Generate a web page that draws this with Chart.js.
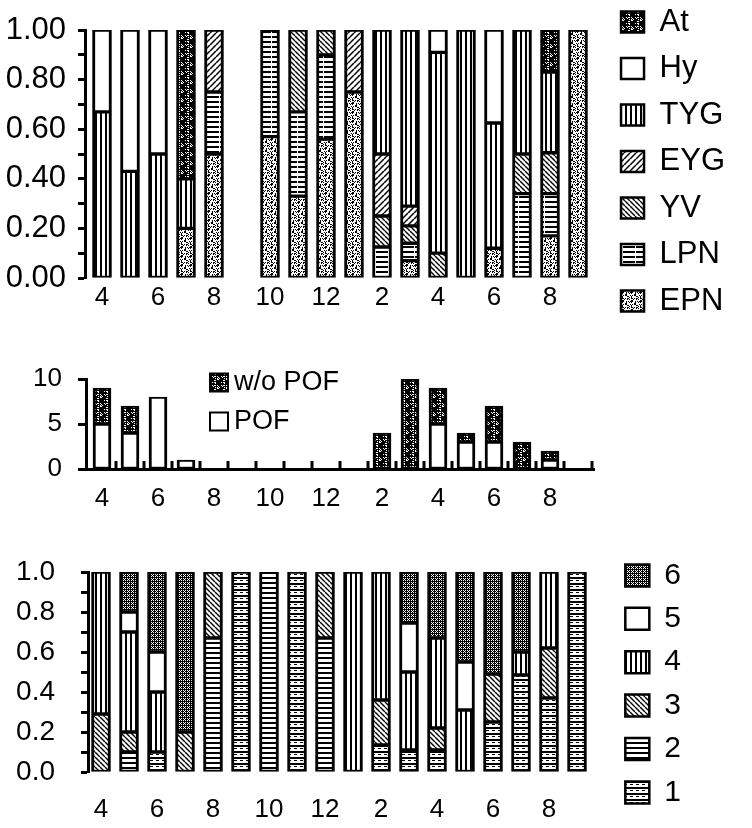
<!DOCTYPE html>
<html>
<head>
<meta charset="utf-8">
<script src="https://cdn.jsdelivr.net/npm/chart.js@4.4.1/dist/chart.umd.min.js"></script>
<style>
    html, body { margin: 0; padding: 0; background: #fff; }
    body { position: relative; width: 752px; height: 828px; overflow: hidden; }
    canvas { position: absolute; left: 0; }
    #top-chart { top: -9px; }
    #mid-chart { top: 350px; }
    #bot-chart { top: 547px; }
</style>
</head>
<body>
<canvas id="top-chart" width="752" height="350"></canvas>
<canvas id="mid-chart" width="752" height="170"></canvas>
<canvas id="bot-chart" width="752" height="281"></canvas>
<script>
// ===== DATA =====
const months = ['4', '5', '6', '7', '8', '9', '10', '11', '12', '1', '2', '3', '4', '5', '6', '7', '8', '9'];

// upper panel, stacked bottom -> top
const epn = [0, 0, 0, 0.20, 0.50, 0, 0.57, 0.33, 0.56, 0.75, 0, 0.07, 0, 0, 0.12, 0, 0.17, 1.00];
const lpn = [0, 0, 0, 0, 0.25, 0, 0.43, 0.34, 0.34, 0, 0.125, 0.07, 0, 0, 0, 0.34, 0.17, 0];
const yv  = [0, 0, 0, 0, 0, 0, 0, 0.33, 0.10, 0, 0.125, 0.07, 0.10, 0, 0, 0.16, 0.165, 0];
const eyg = [0, 0, 0, 0, 0.25, 0, 0, 0, 0, 0.25, 0.25, 0.08, 0, 0, 0, 0, 0, 0];
const tyg = [0.67, 0.43, 0.50, 0.20, 0, 0, 0, 0, 0, 0, 0.50, 0.71, 0.81, 1.00, 0.505, 0.50, 0.325, 0];
const hy  = [0.33, 0.57, 0.50, 0, 0, 0, 0, 0, 0, 0, 0, 0, 0.09, 0, 0.375, 0, 0, 0];
const at  = [0, 0, 0, 0.60, 0, 0, 0, 0, 0, 0, 0, 0, 0, 0, 0, 0, 0.17, 0];
const shareTicks = [0, 0.1, 0.2, 0.3, 0.4, 0.5, 0.6, 0.7, 0.8, 0.9, 1.0];

// middle panel, counts
const pof   = [5, 4, 8, 1, 0, 0, 0, 0, 0, 0, 0, 0, 5, 3, 3, 0, 1, 0];
const noPof = [4, 3, 0, 0, 0, 0, 0, 0, 0, 0, 4, 10, 4, 1, 4, 3, 1, 0];
const countTicks = [0, 5, 10];

// lower panel, stages 1..6 stacked bottom -> top
const stage1 = [0, 0, 0.10, 0, 0, 1, 0, 1, 0, 0, 0.135, 0.11, 0.11, 0, 0.25, 0.485, 0.37, 1];
const stage2 = [0, 0.10, 0, 0, 0.67, 0, 1, 0, 0.67, 0, 0, 0, 0, 0, 0, 0, 0, 0];
const stage3 = [0.29, 0.10, 0, 0.20, 0.33, 0, 0, 0, 0.33, 0, 0.225, 0, 0.11, 0, 0.24, 0, 0.25, 0];
const stage4 = [0.71, 0.50, 0.30, 0, 0, 0, 0, 0, 0, 1, 0.64, 0.39, 0.45, 0.31, 0, 0.115, 0.38, 0];
const stage5 = [0, 0.10, 0.20, 0, 0, 0, 0, 0, 0, 0, 0, 0.245, 0, 0.24, 0, 0, 0, 0];
const stage6 = [0, 0.20, 0.40, 0.80, 0, 0, 0, 0, 0, 0, 0, 0.255, 0.33, 0.45, 0.51, 0.40, 0, 0];

// ===== PATTERNS =====
const FONT = "'Liberation Sans', Arial, Helvetica, sans-serif";
Chart.defaults.font.family = FONT;
Chart.defaults.color = '#000';

function tile(w, h, bg, draw) {
    const c = document.createElement('canvas');
    c.width = w;
    c.height = h;
    const g = c.getContext('2d');
    g.fillStyle = bg;
    g.fillRect(0, 0, w, h);
    g.fillStyle = '#000';
    g.strokeStyle = '#000';
    draw(g, w, h);
    return g.createPattern(c, 'repeat');
}

// speckled texture, fixed seed so it is the same every run
function speckle(size, bg, fg, density, seed) {
    let s = seed;
    const next = () => (s = (s * 1103515245 + 12345) & 0x7fffffff) / 0x7fffffff;
    return tile(size, size, bg, g => {
        g.fillStyle = fg;
        for (let y = 0; y < size; y++) {
            for (let x = 0; x < size; x++) {
                if (next() < density) g.fillRect(x, y, 1, 1);
            }
        }
    });
}

const lightStipple = speckle(9, '#fff', '#000', 0.38, 7);
const darkStipple = speckle(9, '#fff', '#000', 0.78, 11);
const mesh = tile(4, 4, '#000', g => {
    g.fillStyle = '#fff';
    [[1, 1], [3, 3], [1, 3], [3, 1], [0, 0]].forEach(p => g.fillRect(p[0], p[1], 1, 1));
});
const vLines = tile(5, 1, '#fff', g => g.fillRect(0, 0, 2, 1));
const hBroken = tile(13, 5, '#fff', g => { g.fillRect(0, 0, 11, 2); g.fillRect(12, 0, 1, 2); });
const hSolid = tile(4, 5, '#fff', g => g.fillRect(0, 0, 4, 2));
const hDashed = tile(6, 6, '#fff', g => { g.fillRect(0, 0, 6, 2); g.fillRect(0, 3, 3, 1); });
const fwdHatch = tile(6, 6, '#fff', g => {
    g.lineWidth = 1.5;
    for (let k = -1; k <= 1; k++) { g.beginPath(); g.moveTo(k * 6, 6); g.lineTo(k * 6 + 6, 0); g.stroke(); }
});
const backHatch = tile(5, 5, '#fff', g => {
    g.lineWidth = 1.4;
    for (let k = -1; k <= 1; k++) { g.beginPath(); g.moveTo(k * 5, 0); g.lineTo(k * 5 + 5, 5); g.stroke(); }
});

// ===== HELPERS =====
const toPoints = arr => arr.map((v, i) => ({ x: i, y: v }));

const barBorder = { top: 2, bottom: 2, left: 3, right: 3 };

function series(label, values, fill, thickness) {
    return {
        label: label,
        data: toPoints(values),
        backgroundColor: fill,
        borderColor: '#000',
        borderWidth: barBorder,
        borderSkipped: false,
        barThickness: thickness
    };
}

// puts month index 0 at firstPx and spaces bars by step px
const alignX = {
    id: 'alignX',
    afterLayout(chart, args, opts) {
        const s = chart.scales.x;
        s.min = -(opts.firstPx - s.left) / opts.step;
        s.max = s.min + (s.right - s.left) / opts.step;
        s.configure();
    }
};

// short upward tick marks between the bars of the middle panel
const gapTicks = {
    id: 'gapTicks',
    afterDraw(chart, args, o) {
        const s = chart.scales.x;
        const ctx = chart.ctx;
        ctx.save();
        ctx.strokeStyle = '#000';
        ctx.lineWidth = o.width;
        months.forEach((m, i) => {
            const x = Math.round(s.getPixelForValue(i + 0.5));
            ctx.beginPath();
            ctx.moveTo(x, s.top + 1);
            ctx.lineTo(x, s.top - o.length);
            ctx.stroke();
        });
        ctx.restore();
    }
};

// legend drawn inside the plot of the middle panel
const insideLegend = {
    id: 'insideLegend',
    afterDraw(chart, args, o) {
        const { ctx, chartArea } = chart;
        const sets = chart.data.datasets.slice().reverse();
        ctx.save();
        ctx.font = o.fontSize + 'px ' + FONT;
        ctx.textBaseline = 'middle';
        sets.forEach((ds, i) => {
            const x = chartArea.left + o.x;
            const cy = chartArea.top + o.y + i * o.gap;
            ctx.fillStyle = ds.backgroundColor;
            ctx.fillRect(x, cy - o.box / 2, o.box, o.box);
            ctx.lineWidth = 2;
            ctx.strokeStyle = '#000';
            ctx.strokeRect(x, cy - o.box / 2, o.box, o.box);
            ctx.fillStyle = '#000';
            ctx.fillText(ds.label, x + o.box + o.textGap, cy);
        });
        ctx.restore();
    }
};

function xAxis(height, pad, border) {
    return {
        type: 'linear',
        stacked: true,
        offset: false,
        bounds: 'data',
        afterBuildTicks: s => { s.ticks = months.map((m, i) => ({ value: i })); },
        afterFit: s => { s.height = height; s.paddingLeft = 0; s.paddingRight = 0; },
        ticks: {
            autoSkip: false,
            maxRotation: 0,
            padding: pad,
            font: { size: 26 },
            callback: v => (v % 2 === 0 ? months[v] : '')
        },
        grid: { display: false, drawTicks: false },
        border: border || { display: false }
    };
}

function yAxis(width, padTop, tickVals, fontSize, pad, tickLen, fmt) {
    return {
        stacked: true,
        min: tickVals[0],
        max: tickVals[tickVals.length - 1],
        afterBuildTicks: s => { s.ticks = tickVals.map(v => ({ value: v })); },
        afterFit: s => { s.width = width; s.paddingTop = padTop; },
        ticks: { autoSkip: false, padding: pad, font: { size: fontSize }, callback: fmt },
        grid: { drawOnChartArea: false, drawTicks: true, tickLength: tickLen, tickWidth: 3, tickColor: '#000' },
        border: { display: true, width: 3, color: '#000' }
    };
}

const baseOptions = {
    responsive: false,
    animation: false,
    devicePixelRatio: 1,
    events: []
};

// ===== UPPER PANEL =====
new Chart(document.getElementById('top-chart'), {
    type: 'bar',
    data: {
        datasets: [
            series('EPN', epn, lightStipple, 19),
            series('LPN', lpn, hBroken, 19),
            series('YV', yv, backHatch, 19),
            series('EYG', eyg, fwdHatch, 19),
            series('TYG', tyg, vLines, 19),
            series('Hy', hy, '#fff', 19),
            series('At', at, darkStipple, 19)
        ]
    },
    plugins: [alignX],
    options: Object.assign({}, baseOptions, {
        layout: { padding: { left: 0, top: 0, right: 17, bottom: 0 } },
        plugins: {
            alignX: { firstPx: 102, step: 28 },
            tooltip: { enabled: false },
            legend: {
                position: 'right',
                align: 'start',
                reverse: true,
                labels: { font: { size: 31 }, boxWidth: 23, boxHeight: 21, padding: 15.5, color: '#000' }
            }
        },
        scales: {
            x: xAxis(63, 4.4),
            y: yAxis(85, 39, shareTicks, 31, 12, 7, (v, i) => (i % 2 === 0 ? v.toFixed(2) : ''))
        }
    })
});

// ===== MIDDLE PANEL =====
new Chart(document.getElementById('mid-chart'), {
    type: 'bar',
    data: {
        datasets: [
            series('POF', pof, '#fff', 18),
            series('w/o POF', noPof, darkStipple, 18)
        ]
    },
    plugins: [alignX, gapTicks, insideLegend],
    options: Object.assign({}, baseOptions, {
        layout: { padding: { left: 0, top: 0, right: 158, bottom: 0 } },
        plugins: {
            alignX: { firstPx: 102, step: 28 },
            gapTicks: { length: 8, width: 3 },
            insideLegend: { x: 124, y: 3.5, gap: 39, box: 18, textGap: 6, fontSize: 27 },
            tooltip: { enabled: false },
            legend: { display: false }
        },
        scales: {
            x: xAxis(51, 14.4, { display: true, width: 3, color: '#000' }),
            y: yAxis(86, 29, countTicks, 26, 16, 8, v => String(v))
        }
    })
});

// ===== LOWER PANEL =====
new Chart(document.getElementById('bot-chart'), {
    type: 'bar',
    data: {
        datasets: [
            series('1', stage1, hDashed, 19),
            series('2', stage2, hSolid, 19),
            series('3', stage3, backHatch, 19),
            series('4', stage4, vLines, 19),
            series('5', stage5, '#fff', 19),
            series('6', stage6, mesh, 19)
        ]
    },
    plugins: [alignX],
    options: Object.assign({}, baseOptions, {
        layout: { padding: { left: 0, top: 0, right: 61, bottom: 0 } },
        plugins: {
            alignX: { firstPx: 101, step: 28 },
            tooltip: { enabled: false },
            legend: {
                position: 'right',
                align: 'start',
                reverse: true,
                labels: { font: { size: 30 }, boxWidth: 24, boxHeight: 22, padding: 13.4, color: '#000' }
            }
        },
        scales: {
            x: xAxis(56, 22.4),
            y: yAxis(88, 25, shareTicks, 28, 26, 7, (v, i) => (i % 2 === 0 ? v.toFixed(1) : ''))
        }
    })
});
</script>
</body>
</html>
